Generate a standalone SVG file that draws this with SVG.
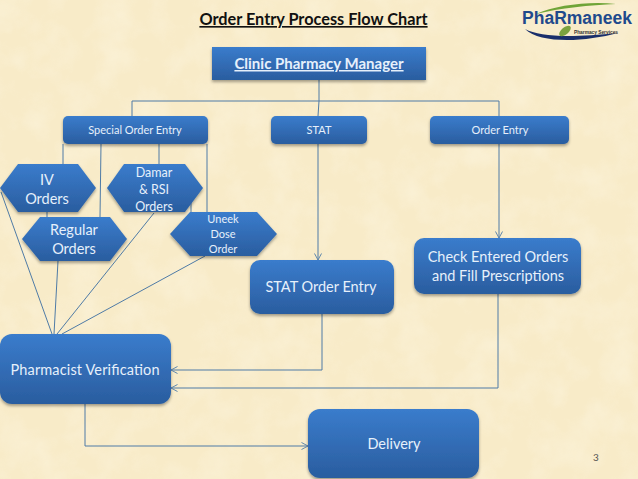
<svg xmlns="http://www.w3.org/2000/svg" width="638" height="479" viewBox="0 0 638 479">
<style>
text{font-family:"Lato","Open Sans","Liberation Sans",sans-serif;text-anchor:middle;fill:#e6f0fb}
.n{fill:url(#g);filter:url(#s)}
.l{fill:none;stroke:#4f7ba6;stroke-width:1}
.t14{font-size:14.5px}.t15{font-size:15px}.t11{font-size:11px}.t12{font-size:12.5px}
</style>
<defs>
<linearGradient id="g" x1="0" y1="0" x2="0" y2="1"><stop offset="0" stop-color="#3a7ccc"/><stop offset="1" stop-color="#2a5d9f"/></linearGradient>
<filter id="s" x="-10%" y="-15%" width="120%" height="135%"><feDropShadow dx="0" dy="2" stdDeviation="1.5" flood-color="#000" flood-opacity=".35"/></filter>
<filter id="p" x="0" y="0" width="100%" height="100%"><feTurbulence type="fractalNoise" baseFrequency=".03" numOctaves="4" seed="4"/><feColorMatrix values="0 0 0 0 1  0 0 0 0 .97  0 0 0 0 .86  1.6 0 0 0 -.62"/></filter>
<marker id="a" markerWidth="9" markerHeight="9" refX="7.5" refY="4" orient="auto" markerUnits="userSpaceOnUse"><path d="M1 .5L7.5 4L1 7.5" fill="none" stroke="#5f87ad" stroke-width="1"/></marker>
</defs>
<rect width="638" height="479" fill="#f8ebc8"/>
<rect width="638" height="479" filter="url(#p)" opacity=".4"/>

<g id="connectors" class="l">
<path d="M319 79V101M132 116V101H499V116M319 101L318 116"/>
<path d="M63 144V164M101 144L100 217M159 144V164M207 144V212M47 212V217M191 203V212"/>
<path d="M318 144V260" marker-end="url(#a)"/>
<path d="M499 144V238" marker-end="url(#a)"/>
<path d="M1 192L52 334M58 261L54 334M154 213L57 334M205 256L62 334"/>
<path d="M322 314V370H171" marker-end="url(#a)"/>
<path d="M498 294V388H171" marker-end="url(#a)"/>
<path d="M85 404V446H308" marker-end="url(#a)"/>
</g>

<g id="title"><text x="313.5" y="25" style="font-weight:700;font-size:16.3px;fill:#111;text-decoration:underline">Order Entry Process Flow Chart</text></g>

<g id="logo">
<path d="M536 14C556 5 590 1 616 4C590 5 560 8 536 14Z" fill="#6fa437"/>
<path d="M525 29C540 37 570 38 618 33C585 42 540 44 525 29Z" fill="#1a2f6b"/>
<text x="577" y="24" style="font-weight:700;font-size:17.5px;fill:#1f4a8c;font-family:'Liberation Sans',sans-serif">PhaRmaneek</text>
<ellipse cx="565" cy="31" rx="7" ry="3.5" transform="rotate(-40 565 31)" fill="#7ba23f"/>
<text x="596" y="33.5" style="font-weight:700;font-size:4.8px;fill:#333;font-family:'Liberation Sans',sans-serif">Pharmacy Services</text>
</g>

<g id="clinic-pharmacy-manager"><rect class="n" x="212" y="47" width="214" height="33"/><text x="319" y="69" style="font-weight:700;font-size:15px;text-decoration:underline">Clinic Pharmacy Manager</text></g>

<g id="special-order-entry"><rect class="n" x="63" y="116" width="145" height="28" rx="5"/><text class="t11" x="135" y="134">Special Order Entry</text></g>
<g id="stat"><rect class="n" x="271" y="116" width="96" height="28" rx="5"/><text class="t11" x="319" y="134">STAT</text></g>
<g id="order-entry"><rect class="n" x="430" y="116" width="139" height="28" rx="5"/><text class="t11" x="500" y="134">Order Entry</text></g>

<g id="iv-orders"><polygon class="n" points="0,188 18,164 78,164 96,188 78,212 18,212"/><text class="t14" x="47" y="185">IV</text><text class="t14" x="47" y="204">Orders</text></g>
<g id="regular-orders"><polygon class="n" points="22,239 40,217 110,217 127,239 110,261 40,261"/><text class="t14" x="74" y="235">Regular</text><text class="t14" x="74" y="254">Orders</text></g>
<g id="damar-orders"><polygon class="n" points="107,188 124,164 185,164 203,188 185,212 124,212"/><text class="t12" x="154" y="177">Damar</text><text class="t12" x="154" y="194">&amp; RSI</text><text class="t12" x="154" y="211">Orders</text></g>
<g id="uneek-dose-order"><polygon class="n" points="170,234 190,212 257,212 277,234 257,256 190,256"/><text class="t11" x="223" y="223">Uneek</text><text class="t11" x="223" y="238">Dose</text><text class="t11" x="223" y="253">Order</text></g>

<g id="stat-order-entry"><rect class="n" x="250" y="260" width="144" height="54" rx="10"/><text class="t14" x="321" y="292">STAT Order Entry</text></g>
<g id="check-entered-orders"><rect class="n" x="414" y="238" width="167" height="56" rx="10"/><text class="t14" x="498" y="262">Check Entered Orders</text><text class="t14" x="498" y="281">and Fill Prescriptions</text></g>
<g id="pharmacist-verification"><rect class="n" x="0" y="334" width="171" height="70" rx="12"/><text class="t14" x="85" y="375" textLength="149">Pharmacist Verification</text></g>
<g id="delivery"><rect class="n" x="308" y="409" width="171" height="69" rx="12"/><text class="t14" x="394" y="449">Delivery</text></g>
<g id="page"><text x="596" y="461" style="font-size:10px;fill:#555">3</text></g>
</svg>
